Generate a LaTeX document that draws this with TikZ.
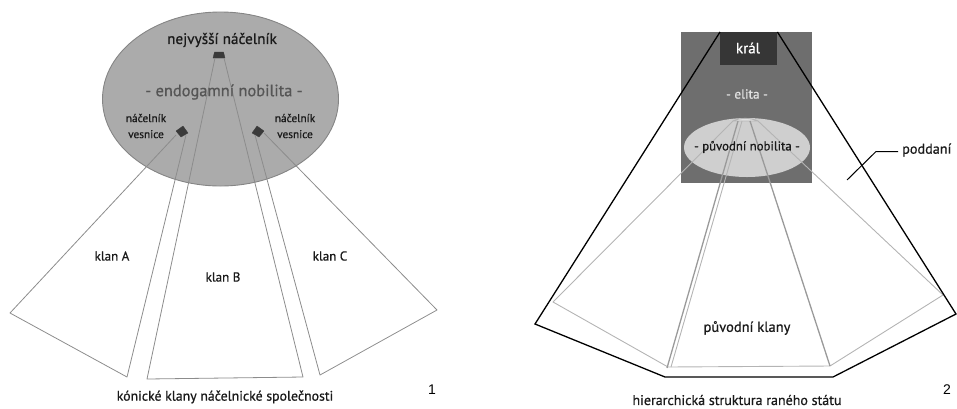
\documentclass[tikz,border=0pt]{standalone}
\usepackage{fontspec}
\setmainfont{PT Sans}[FakeBold=0.7]
\newfontfamily\numfont{Liberation Sans}
\usetikzlibrary{shapes.geometric}
\definecolor{ellgray}{HTML}{ABABAB}
\definecolor{ellborder}{HTML}{858585}
\definecolor{markgray}{HTML}{3A3A3A}
\definecolor{linegray}{HTML}{8C8C8C}
\definecolor{nobtext}{HTML}{555555}
\definecolor{elitegray}{HTML}{6E6E6E}
\definecolor{kinggray}{HTML}{363636}
\definecolor{noblight}{HTML}{CFCFCF}
\definecolor{fanlight}{HTML}{B4B4B4}
\definecolor{fanmid}{HTML}{9A9A9A}
\definecolor{elitatext}{HTML}{E2E2E2}
\definecolor{txt}{HTML}{1A1A1A}
\tikzset{
  lbl/.style={inner sep=0pt, text=txt, font=\fontsize{11.3}{16}\selectfont, align=center},
  clanline/.style={draw=linegray, line width=0.8pt, line join=round},
  marker/.style={fill=markgray, draw=markgray, line width=0.3pt},
  fanthin/.style={draw=fanlight, line width=0.9pt, line join=round},
  fanthick/.style={draw=fanmid, line width=1.3pt},
  outerline/.style={draw=black, line width=1.3pt, line join=miter},
  caption/.style={inner sep=0pt, text=txt, font=\fontsize{13.5}{15}\selectfont},
  num/.style={inner sep=0pt, font=\numfont\fontsize{14}{16}\selectfont}
}
\begin{document}
\begin{tikzpicture}[x=1pt,y=-1pt]
\useasboundingbox (0,0) rectangle (957,408);
% ---------- diagram 1 ----------
\node[ellipse, draw=ellborder, fill=ellgray, line width=0.9pt, minimum width=236pt, minimum height=174pt, inner sep=0pt] (nob) at (220.5,99) {};
% markers
\filldraw[marker] (213,58) -- (225,58) -- (223.5,52) -- (214.5,52) -- cycle;
\filldraw[marker] (176,131) -- (183,126) -- (188,133) -- (181,137) -- cycle;
\filldraw[marker] (264,131) -- (257,126) -- (252,133) -- (259,137) -- cycle;
% clans
\coordinate (a1) at (176,135); \coordinate (a2) at (186,135);
\coordinate (b1) at (215,58);  \coordinate (b2) at (224,58);
\coordinate (c1) at (255,135); \coordinate (c2) at (264,133);
\draw[clanline] (a1) -- (10,313) -- (127,377) -- (a2);
\draw[clanline] (b1) -- (147,379) -- (303,377) -- (b2);
\draw[clanline] (c1) -- (320,375) -- (437,310) -- (c2);
% texts
\node[inner sep=0pt, text=txt, font=\fontsize{15.2}{17}\selectfont] (chief) at (222,40) {nejvyšší náčelník};
\node[inner sep=0pt, text=nobtext, font=\fontsize{16.4}{18}\selectfont] (endo) at (224,92) {- endogamní nobilita -};
\node[lbl] (vl) at (146,126) {náčelník\\vesnice};
\node[lbl] (vr) at (295,126) {náčelník\\vesnice};
\node[lbl, font=\fontsize{13}{15}\selectfont] (kA) at (112,256) {klan A};
\node[lbl, font=\fontsize{13}{15}\selectfont] (kB) at (223,277) {klan B};
\node[lbl, font=\fontsize{13}{15}\selectfont] (kC) at (330,256) {klan C};
\node[caption, font=\fontsize{13.8}{15}\selectfont] (cap1) at (225,397) {kónické klany náčelnické společnosti};
\node[num] (n1) at (432,390) {1};
% ---------- diagram 2 ----------
\fill[elitegray] (681,32) rectangle (812,183);
\node[fill=kinggray, minimum width=57pt, minimum height=33pt, inner sep=0pt, anchor=north west] (king) at (720,32) {};
\node[text=white, inner sep=0pt, font=\fontsize{15}{17}\selectfont] (kral) at (748,48) {král};
\node[text=elitatext, inner sep=0pt, font=\fontsize{13.2}{15}\selectfont] (elita) at (747,94) {- elita -};
\node[ellipse, fill=noblight, minimum width=126pt, minimum height=59pt, inner sep=0pt] (pn) at (747,147.5) {};
% fan of original clans
\draw[fanthin, fill=noblight!60!white] (733,121) .. controls (740,117.5) and (750,117.5) .. (758,121) -- cycle;
\draw[fanthin] (733,121) -- (553,302) -- (668,367) -- (830,366) -- (943,295) -- (758,121);
\draw[fanthick] (738,121) -- (667,368);
\draw[fanthin] (742,121) -- (671,367);
\draw[fanthick] (750,121) -- (830,366);
\node[inner sep=0pt, text=txt, font=\fontsize{12.8}{14}\selectfont] (pntext) at (747,147) {- původní nobilita -};
% outer state
\draw[outerline] (king.north west) -- (535,324) -- (665,377) -- (833,377) -- (956,314) -- (king.north east);
% subjects
\node[inner sep=0pt, anchor=west, text=txt, font=\fontsize{14.2}{16}\selectfont] (podd) at (902,150) {poddaní};
\draw[black, line width=1pt] (podd.west) ++(-4,1.5) coordinate (pl) -- ++(-22,0) -- (847,180);
\node[lbl, font=\fontsize{14.5}{16}\selectfont] (pk) at (747,328) {původní klany};
\node[caption, font=\fontsize{14}{16}\selectfont] (cap2) at (737,400) {hierarchická struktura raného státu};
\node[num] (n2) at (947,390) {2};
\end{tikzpicture}
\end{document}
